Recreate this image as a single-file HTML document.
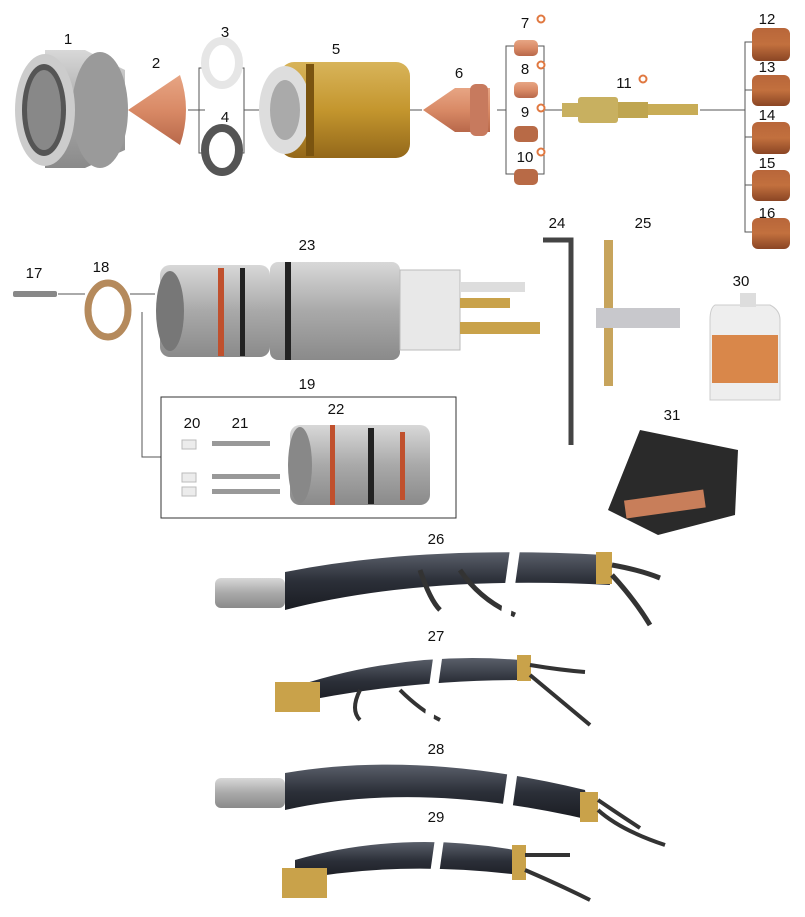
<!DOCTYPE html>
<html><head><meta charset="utf-8"><style>
html,body{margin:0;padding:0;background:#fff;}
svg{display:block}
text{font-family:"Liberation Sans",sans-serif;font-size:15px;fill:#111;text-anchor:middle}
</style></head><body>
<svg width="805" height="917" viewBox="0 0 805 917" xmlns="http://www.w3.org/2000/svg">
<defs>
<linearGradient id="steel" x1="0" y1="0" x2="0" y2="1"><stop offset="0" stop-color="#d8d8d8"/><stop offset=".5" stop-color="#a9a9a9"/><stop offset="1" stop-color="#8a8a8a"/></linearGradient>
<linearGradient id="cu" x1="0" y1="0" x2="0" y2="1"><stop offset="0" stop-color="#e7a584"/><stop offset=".5" stop-color="#d98a66"/><stop offset="1" stop-color="#b8684a"/></linearGradient>
<linearGradient id="br" x1="0" y1="0" x2="0" y2="1"><stop offset="0" stop-color="#d8b45a"/><stop offset=".5" stop-color="#c4962e"/><stop offset="1" stop-color="#94681a"/></linearGradient>
<linearGradient id="rd" x1="0" y1="0" x2="0" y2="1"><stop offset="0" stop-color="#b8663a"/><stop offset=".5" stop-color="#c2703e"/><stop offset="1" stop-color="#8a4524"/></linearGradient>
<linearGradient id="hose" x1="0" y1="0" x2="0" y2="1"><stop offset="0" stop-color="#5a5f6a"/><stop offset=".5" stop-color="#2b2f38"/><stop offset="1" stop-color="#1a1c22"/></linearGradient>
</defs>
<g stroke="#555" stroke-width="1" fill="none">
<line x1="115" y1="110" x2="128" y2="110"/><line x1="188" y1="110" x2="205" y2="110"/>
<path d="M205 68 H199 V153 H205 M238 68 H244 V153 H238"/><line x1="244" y1="110" x2="260" y2="110"/>
<line x1="408" y1="110" x2="422" y2="110"/>
<path d="M515 46 H506 V174 H515 M537 46 H544 V174 H537"/><line x1="497" y1="110" x2="506" y2="110"/><line x1="544" y1="110" x2="562" y2="110"/>
<path d="M752 42 H745 V232 H752"/><line x1="700" y1="110" x2="745" y2="110"/>
<line x1="745" y1="90" x2="752" y2="90"/><line x1="745" y1="137" x2="752" y2="137"/><line x1="745" y1="185" x2="752" y2="185"/>
<line x1="58" y1="294" x2="85" y2="294"/><line x1="130" y1="294" x2="155" y2="294"/>
<path d="M142 312 V457 H161"/>
</g>
<rect x="161" y="397" width="295" height="121" fill="none" stroke="#333"/>
<!-- 1 -->
<path d="M45 50 H85 L125 70 V150 L85 168 H45 Z" fill="url(#steel)"/>
<ellipse cx="100" cy="110" rx="28" ry="58" fill="#9a9a9a"/>
<ellipse cx="45" cy="110" rx="30" ry="56" fill="#ccc"/>
<ellipse cx="44" cy="110" rx="22" ry="46" fill="#555"/>
<ellipse cx="44" cy="110" rx="17" ry="40" fill="#888"/>
<!-- 2 -->
<path d="M128 110 L180 75 Q192 110 180 145 Z" fill="url(#cu)"/>
<!-- 3,4 -->
<ellipse cx="222" cy="63" rx="17" ry="22" fill="none" stroke="#e6e6e6" stroke-width="8"/>
<ellipse cx="222" cy="150" rx="17" ry="22" fill="none" stroke="#555" stroke-width="8"/>
<!-- 5 -->
<rect x="280" y="62" width="130" height="96" rx="14" fill="url(#br)"/>
<ellipse cx="285" cy="110" rx="26" ry="44" fill="#ddd"/>
<ellipse cx="285" cy="110" rx="15" ry="30" fill="#aaa"/>
<rect x="306" y="64" width="8" height="92" fill="#7a5410"/>
<!-- 6 -->
<path d="M423 110 L455 88 H490 V132 H455 Z" fill="url(#cu)"/>
<rect x="470" y="84" width="18" height="52" rx="6" fill="#c77a5e"/>
<!-- 7-10 -->
<rect x="514" y="40" width="24" height="16" rx="5" fill="url(#cu)"/>
<rect x="514" y="82" width="24" height="16" rx="5" fill="url(#cu)"/>
<rect x="514" y="126" width="24" height="16" rx="5" fill="#b86a46"/>
<rect x="514" y="169" width="24" height="16" rx="5" fill="#b86a46"/>
<!-- 11 -->
<rect x="562" y="103" width="20" height="14" fill="#c8b060"/>
<rect x="578" y="97" width="40" height="26" rx="3" fill="#c8b060"/>
<rect x="618" y="102" width="30" height="16" fill="#bfa550"/>
<rect x="648" y="104" width="50" height="11" fill="#c8ac56"/>
<!-- 12-16 -->
<g fill="url(#rd)"><rect x="752" y="28" width="38" height="33" rx="6"/><rect x="752" y="75" width="38" height="31" rx="6"/><rect x="752" y="122" width="38" height="32" rx="6"/><rect x="752" y="170" width="38" height="31" rx="6"/><rect x="752" y="218" width="38" height="31" rx="6"/></g>
<!-- 17,18 -->
<rect x="13" y="291" width="44" height="6" rx="2" fill="#888"/>
<ellipse cx="108" cy="310" rx="20" ry="27" fill="none" stroke="#b58a5c" stroke-width="7"/>
<!-- 23 -->
<rect x="160" y="265" width="110" height="92" rx="10" fill="url(#steel)"/>
<ellipse cx="170" cy="311" rx="14" ry="40" fill="#777"/>
<rect x="218" y="268" width="6" height="88" fill="#c0502d"/>
<rect x="240" y="268" width="5" height="88" fill="#222"/>
<rect x="270" y="262" width="130" height="98" rx="8" fill="url(#steel)"/>
<rect x="285" y="262" width="6" height="98" fill="#222"/>
<rect x="400" y="270" width="60" height="80" fill="#e8e8e8" stroke="#bbb"/>
<rect x="460" y="282" width="65" height="10" fill="#ddd"/>
<rect x="460" y="298" width="50" height="10" fill="#c9a24a"/>
<rect x="460" y="322" width="80" height="12" fill="#c9a24a"/>
<!-- 20-22 -->
<g fill="#ececec" stroke="#bbb"><rect x="182" y="440" width="14" height="9"/><rect x="182" y="473" width="14" height="9"/><rect x="182" y="487" width="14" height="9"/></g>
<g fill="#999"><rect x="212" y="441" width="58" height="5"/><rect x="212" y="474" width="68" height="5"/><rect x="212" y="489" width="68" height="5"/></g>
<rect x="290" y="425" width="140" height="80" rx="10" fill="url(#steel)"/>
<ellipse cx="300" cy="465" rx="12" ry="38" fill="#888"/>
<rect x="330" y="425" width="5" height="80" fill="#c0502d"/><rect x="368" y="428" width="6" height="76" fill="#222"/><rect x="400" y="432" width="5" height="68" fill="#c0502d"/>
<!-- 24 -->
<path d="M543 240 H571 V445" fill="none" stroke="#444" stroke-width="5"/>
<!-- 25 -->
<rect x="604" y="240" width="9" height="146" fill="#c7a45c"/>
<rect x="596" y="308" width="84" height="20" fill="#c8c8cc"/>
<!-- 30 -->
<path d="M715 305 H770 Q780 310 780 320 V400 H710 V320 Q710 308 715 305Z" fill="#eee" stroke="#ccc"/>
<rect x="740" y="293" width="16" height="14" fill="#ddd"/>
<rect x="712" y="335" width="66" height="48" fill="#d9874a"/>
<!-- 31 -->
<path d="M640 430 L738 450 L735 515 L658 535 L608 510 Z" fill="#2a2a2a"/>
<rect x="625" y="495" width="80" height="18" fill="#c87e5a" transform="rotate(-8 665 505)"/>
<!-- hoses -->
<g>
<rect x="215" y="578" width="70" height="30" rx="6" fill="url(#steel)"/>
<path d="M285 572 Q420 545 605 555 L610 585 Q420 575 285 610 Z" fill="url(#hose)"/>
<rect x="596" y="552" width="16" height="32" fill="#c9a24a"/>
<path d="M420 570 Q430 600 440 610 M460 570 Q480 600 515 615 M612 565 Q640 570 660 578 M612 575 Q635 600 650 625" stroke="#333" stroke-width="5" fill="none"/>
<path d="M285 690 Q400 650 520 660 L522 680 Q400 680 285 705 Z" fill="url(#hose)"/>
<rect x="517" y="655" width="14" height="26" fill="#c9a24a"/>
<rect x="275" y="682" width="45" height="30" fill="#c9a24a"/>
<path d="M530 665 Q560 670 585 672 M530 675 Q560 700 590 725 M360 690 Q350 710 360 720 M400 690 Q420 710 440 720" stroke="#333" stroke-width="4" fill="none"/>
<rect x="215" y="778" width="70" height="30" rx="6" fill="url(#steel)"/>
<path d="M285 773 Q420 750 585 790 L590 820 Q420 780 285 810 Z" fill="url(#hose)"/>
<rect x="580" y="792" width="18" height="30" fill="#c9a24a"/>
<path d="M598 800 Q620 815 640 828 M598 810 Q620 830 665 845" stroke="#333" stroke-width="4" fill="none"/>
<path d="M295 860 Q400 830 515 850 L520 875 Q400 860 295 880 Z" fill="url(#hose)"/>
<rect x="512" y="845" width="14" height="35" fill="#c9a24a"/>
<rect x="282" y="868" width="45" height="30" fill="#c9a24a"/>
<path d="M525 855 Q550 855 570 855 M525 870 Q560 885 590 900" stroke="#333" stroke-width="4" fill="none"/>
<rect x="505" y="540" width="10" height="90" fill="#fff" transform="rotate(8 510 585)"/>
<rect x="430" y="645" width="9" height="75" fill="#fff" transform="rotate(8 435 680)"/>
<rect x="505" y="755" width="10" height="75" fill="#fff" transform="rotate(8 510 790)"/>
<rect x="432" y="825" width="9" height="70" fill="#fff" transform="rotate(8 436 860)"/>
</g>
<!-- labels -->
<text x="68" y="44">1</text><text x="156" y="68">2</text><text x="225" y="37">3</text><text x="225" y="122">4</text>
<text x="336" y="54">5</text><text x="459" y="78">6</text>
<text x="525" y="28">7</text><text x="525" y="74">8</text><text x="525" y="117">9</text><text x="525" y="162">10</text>
<text x="624" y="88">11</text>
<g fill="none" stroke="#e07840" stroke-width="2"><circle cx="541" cy="19" r="3.5"/><circle cx="541" cy="65" r="3.5"/><circle cx="541" cy="108" r="3.5"/><circle cx="541" cy="152" r="3.5"/><circle cx="643" cy="79" r="3.5"/></g>
<text x="767" y="24">12</text><text x="767" y="72">13</text><text x="767" y="120">14</text><text x="767" y="168">15</text><text x="767" y="218">16</text>
<text x="34" y="278">17</text><text x="101" y="272">18</text><text x="307" y="250">23</text><text x="307" y="389">19</text>
<text x="192" y="428">20</text><text x="240" y="428">21</text><text x="336" y="414">22</text>
<text x="557" y="228">24</text><text x="643" y="228">25</text><text x="741" y="286">30</text><text x="672" y="420">31</text>
<text x="436" y="544">26</text><text x="436" y="641">27</text><text x="436" y="754">28</text><text x="436" y="822">29</text>
</svg>
</body></html>
